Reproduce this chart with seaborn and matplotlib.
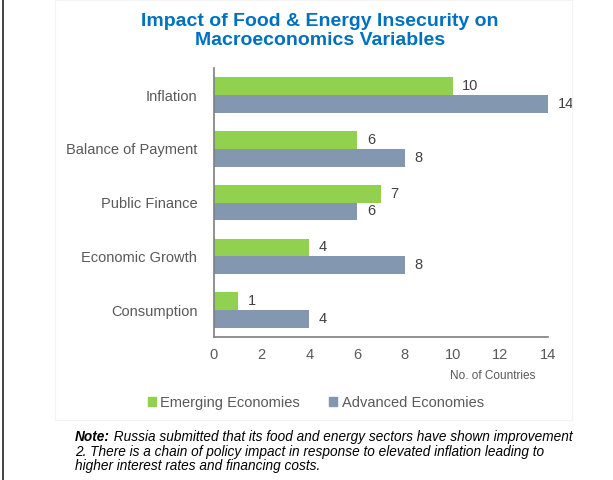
import matplotlib
matplotlib.use("Agg")
import matplotlib.pyplot as plt
from matplotlib.patches import Rectangle
import pandas as pd
import seaborn as sns

categories = ["Inflation", "Balance of Payment", "Public Finance",
              "Economic Growth", "Consumption"]
emerging = [10, 6, 7, 4, 1]
advanced = [14, 8, 6, 8, 4]
series_names = ["Emerging Economies", "Advanced Economies"]
x_ticks = [0, 2, 4, 6, 8, 10, 12, 14]

df = pd.DataFrame({
    "category": categories * 2,
    "value": emerging + advanced,
    "group": [series_names[0]] * len(categories) + [series_names[1]] * len(categories),
})

sns.set_theme(style="white")
plt.rcParams["font.family"] = ["Liberation Sans", "DejaVu Sans"]

fig = plt.figure(figsize=(6.13, 4.8), dpi=100)
ax = fig.add_axes([0.349, 0.298, 0.545, 0.56])

palette = {series_names[0]: "#92D050", series_names[1]: "#8497B0"}
sns.barplot(data=df, y="category", x="value", hue="group", order=categories,
            hue_order=series_names, palette=palette, orient="h", width=0.66,
            saturation=1, ax=ax, legend=False, edgecolor="none")

for cont in ax.containers:
    ax.bar_label(cont, padding=7, fontsize=10.5, color="#404040")

ax.set_xlim(0, 14)
ax.set_ylim(4.5, -0.5)
ax.set_xticks(x_ticks)
ax.set_xticklabels([str(t) for t in x_ticks])
ax.set_xlabel("")
ax.set_ylabel("")
ax.tick_params(axis="both", length=0, labelsize=10.5, labelcolor="#595959", pad=8)
ax.tick_params(axis="y", pad=12)
for side in ["top", "right"]:
    ax.spines[side].set_visible(False)
for side in ["left", "bottom"]:
    ax.spines[side].set_color("#7F7F7F")
    ax.spines[side].set_linewidth(1.2)

# chart area frame and outer left rule
fig.add_artist(Rectangle((55 / 613, 1 - 420 / 480), (572 - 55) / 613, 420 / 480,
                         transform=fig.transFigure, fill=False,
                         edgecolor="#F3F3F3", linewidth=0.8))
fig.add_artist(plt.Line2D([3 / 613, 3 / 613], [0, 1], transform=fig.transFigure,
                          color="#222222", linewidth=1.2))

fig.text(320 / 613, 1 - 31 / 480,
         "Impact of Food & Energy Insecurity on\nMacroeconomics Variables",
         ha="center", va="center", fontsize=14, fontweight="bold",
         color="#0070C0", linespacing=1.12)

fig.text(535 / 613, 1 - 376 / 480, "No. of Countries", ha="right", va="center",
         fontsize=8.5, color="#595959")

# legend
handles = [Rectangle((0, 0), 1, 1, color=palette[n]) for n in series_names]
fig.legend(handles, series_names, loc="center", bbox_to_anchor=(316 / 613, 1 - 403 / 480),
           ncol=2, frameon=False, fontsize=10.5, handlelength=0.55, handleheight=0.55,
           handletextpad=0.3, columnspacing=2.0, labelcolor="#595959")

# footnote: bold-italic lead-in followed by the italic body
note_fs = 9.8
lead = fig.text(75 / 613, 1 - 437 / 480, "Note:", ha="left", va="center",
                fontsize=note_fs, fontweight="bold", style="italic", color="#000000")
fig.canvas.draw()
ax.annotate(" Russia submitted that its food and energy sectors have shown improvement",
            xy=(1, 0.5), xycoords=lead, ha="left", va="center", fontsize=note_fs,
            style="italic", color="#000000", annotation_clip=False)
note_lines = ["2. There is a chain of policy impact in response to elevated inflation leading to",
              "higher interest rates and financing costs."]
for y_px, line in zip([452, 466], note_lines):
    fig.text(75 / 613, 1 - y_px / 480, line, ha="left", va="center",
             fontsize=note_fs, style="italic", color="#000000")

fig.savefig("out.png", dpi=100)
